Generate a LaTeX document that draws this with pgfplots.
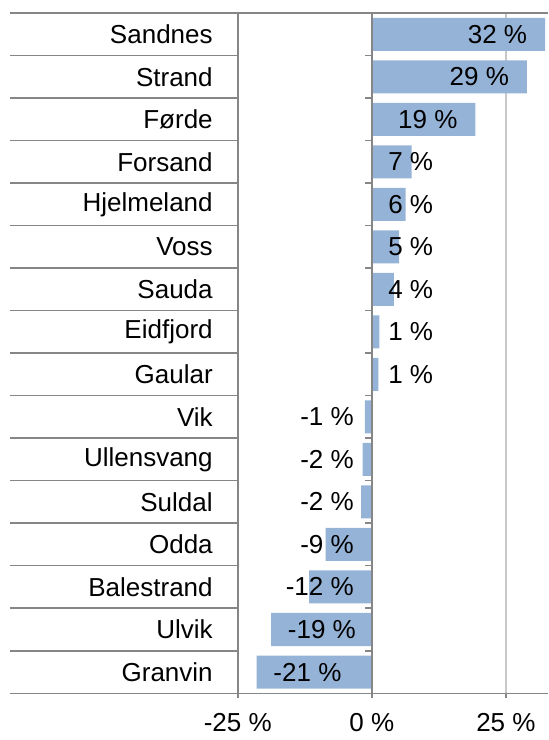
\documentclass[border=0pt]{standalone}
\usepackage{pgfplots}
\pgfplotsset{compat=1.18}
\usepackage{pgfplotstable}
\usepackage{fontspec}
\setmainfont{Liberation Sans}
\definecolor{barblue}{HTML}{95B3D7}
\definecolor{axgray}{HTML}{868686}
\definecolor{grgray}{HTML}{C8C8C8}
\pgfplotstableread{
idx v lab
15 32.3 32
14 28.9 29
13 19.3 19
12 7.4 7
11 6.3 6
10 5.1 5
9 4.1 4
8 1.4 1
7 1.2 1
6 -1.3 -1
5 -1.7 -2
4 -2.0 -2
3 -8.6 -9
2 -11.7 -12
1 -18.8 -19
0 -21.5 -21
}\datatable
\begin{document}
\fontsize{13}{15.6}\selectfont
\begin{tikzpicture}
\begin{axis}[
  name=ax,
  x=2.68pt, y=21.25pt,
  xmin=-25, xmax=32.89, ymin=-0.5, ymax=15.5,
  enlargelimits=false, clip=false,
  axis x line*=bottom, axis y line*=left,
  axis line style={draw=axgray, line width=0.75pt, -},
  xtick={-25,0,25}, xticklabels={-25 \%, 0 \%, 25 \%},
  xtick style={draw=axgray, line width=0.75pt},
  major tick length=2.5pt, tick align=outside,
  xmajorgrids, grid style={grgray, line width=0.75pt},
  xticklabel style={font=\fontsize{13}{15.6}\selectfont, inner sep=0pt, anchor=north, yshift=-7.5pt},
  ytick={0,...,15},
  yticklabels={Granvin,Ulvik,Balestrand,Odda,Suldal,Ullensvang,Vik,Gaular,Eidfjord,Sauda,Voss,Hjelmeland,Forsand,F\o rde,Strand,Sandnes},
  ytick style={draw=none},
  yticklabel style={font=\fontsize{13}{15.6}\selectfont, inner sep=0pt, anchor=east, xshift=-9.85pt},
  extra y ticks={-0.5,0.5,...,15.5},
  extra y tick labels={},
  extra y tick style={major tick length=113.85pt, ytick style={draw=axgray, line width=0.75pt}},
]
\addplot[xbar, bar width=16.5pt, fill=barblue, draw=none,
  point meta=explicit symbolic,
  visualization depends on={\thisrow{v} \as \rawv},
  nodes near coords={\pgfplotspointmeta\ \%},
  nodes near coords style={font=\fontsize{13}{15.6}\selectfont, inner sep=0pt, text=black,
    /utils/exec={%
      \pgfmathtruncatemacro\lblcase{\rawv>15 ? 1 : (\rawv>0 ? 2 : (\rawv<-18.5 ? 3 : 4))}%
      \ifcase\lblcase\or
        \pgfkeysalso{/tikz/anchor=east,/tikz/xshift=-8.75pt}%
      \or
        \pgfmathsetmacro\sh{8-\rawv*2.68}%
        \pgfkeysalso{/tikz/anchor=west,/tikz/xshift=\sh pt}%
      \or
        \pgfkeysalso{/tikz/anchor=west,/tikz/xshift=8.25pt}%
      \or
        \pgfmathsetmacro\sh{-8.85-\rawv*2.68}%
        \pgfkeysalso{/tikz/anchor=east,/tikz/xshift=\sh pt}%
      \fi}}
] table[x=v, y=idx, meta=lab] {\datatable};
\draw[axgray, line width=0.75pt] (axis cs:0,-0.5) -- (axis cs:0,15.5);
\pgfplotsinvokeforeach{0.5,1.5,...,14.5}{\draw[axgray, line width=0.75pt] (axis cs:0,#1) -- ++(-3.5pt,0pt);}
\draw[axgray, line width=0.75pt] (rel axis cs:0,1) -- (rel axis cs:1,1);
\coordinate (TL) at (rel axis cs:0,1);
\coordinate (BR) at (rel axis cs:1,0);
\end{axis}
\pgfresetboundingbox
\path ([shift={(-118.85pt,6.5pt)}]TL) rectangle ([shift={(0pt,-23.35pt)}]BR);
\end{tikzpicture}
\end{document}
